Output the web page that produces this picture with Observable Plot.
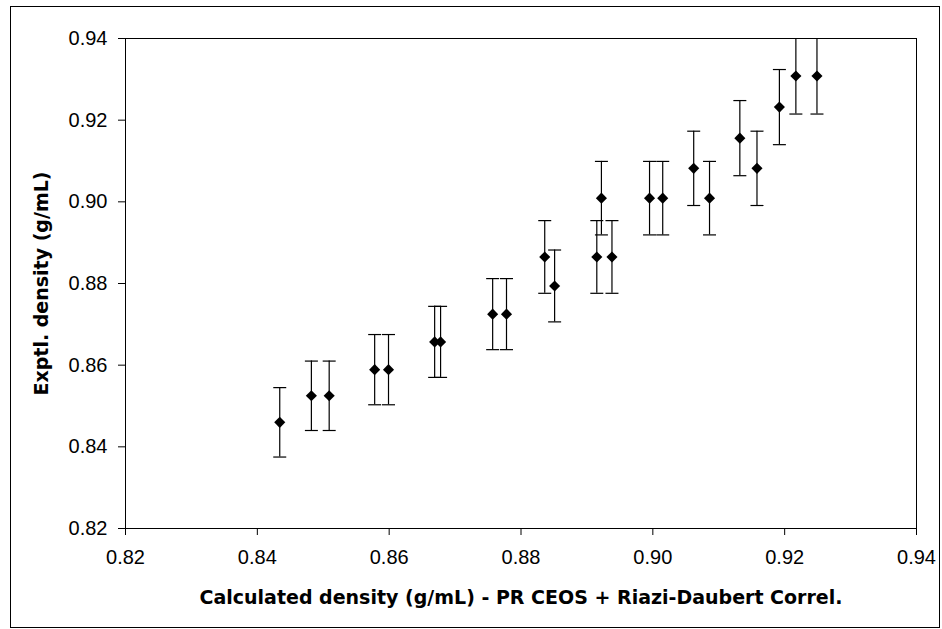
<!DOCTYPE html>
<html>
<head>
<meta charset="utf-8">
<script src="https://cdn.jsdelivr.net/npm/d3@7"></script>
<script src="https://cdn.jsdelivr.net/npm/@observablehq/plot@0.6"></script>
<style>
  html, body { margin: 0; padding: 0; background: #fff; }
  #wrap { position: relative; width: 942px; height: 629px; overflow: hidden; }
  #border { position: absolute; left: 10px; top: 6px; width: 928px; height: 620px; border: 1px solid #000; pointer-events: none; }
  #chart svg { display: block; }
  #chart [aria-label="x-axis label"] text { font-family: 'DejaVu Sans', sans-serif; font-weight: bold; font-size: 19px; }
  #chart [aria-label="y-axis label"] text { font-family: 'DejaVu Sans', sans-serif; font-weight: bold; font-size: 19px; }
</style>
</head>
<body>
<div id="wrap"><div id="chart"></div><div id="border"></div></div>
<script>
// Calculated density (g/mL) - PR CEOS + Riazi-Daubert Correl.
const calcDensity = [0.8434, 0.8482, 0.8509, 0.8578, 0.8599, 0.8669, 0.8678, 0.8757, 0.8778,
  0.8836, 0.8851, 0.8915, 0.8938, 0.8922, 0.8995, 0.9015, 0.9062, 0.9086, 0.9132, 0.9158,
  0.9192, 0.9217, 0.9249];
// Experimental density (g/mL)
const exptDensity = [0.8460, 0.8525, 0.8525, 0.8589, 0.8589, 0.8657, 0.8657, 0.8725, 0.8725,
  0.8865, 0.8794, 0.8865, 0.8865, 0.9009, 0.9009, 0.9009, 0.9082, 0.9009, 0.9156, 0.9082,
  0.9232, 0.9308, 0.9308];
// Error bar half-length (g/mL)
const exptError = [0.0085, 0.0085, 0.0085, 0.0086, 0.0086, 0.0087, 0.0087, 0.0087, 0.0087,
  0.0089, 0.0088, 0.0089, 0.0089, 0.0090, 0.0090, 0.0090, 0.0091, 0.0090, 0.0092, 0.0091,
  0.0092, 0.0093, 0.0093];
const xTicks = [0.82, 0.84, 0.86, 0.88, 0.90, 0.92, 0.94];
const yTicks = [0.82, 0.84, 0.86, 0.88, 0.90, 0.92, 0.94];

const data = calcDensity.map((x, i) => ({
  x, y: exptDensity[i], lo: exptDensity[i] - exptError[i], hi: exptDensity[i] + exptError[i]
}));

const capSymbol = { draw(ctx) { ctx.moveTo(-6.5, 0); ctx.lineTo(6.5, 0); } };

const chart = Plot.plot({
  width: 942,
  height: 629,
  marginLeft: 125,
  marginRight: 26,
  marginTop: 38,
  marginBottom: 101,
  style: { fontFamily: "'Liberation Sans', Arial, sans-serif", fontSize: "20px", color: "#000", background: "transparent" },
  x: { domain: [0.82, 0.94] },
  y: { domain: [0.82, 0.94] },
  marks: [
    Plot.frame({ stroke: "#000", strokeWidth: 1 }),
    Plot.axisX({ ticks: xTicks, tickFormat: d3.format(".2f"), tickSize: 7, tickPadding: 14,
      label: "Calculated density (g/mL) - PR CEOS + Riazi-Daubert Correl.", labelAnchor: "center", labelArrow: "none", labelOffset: 75 }),
    Plot.axisY({ ticks: yTicks, tickFormat: d3.format(".2f"), tickSize: 7, tickPadding: 11,
      label: "Exptl. density (g/mL)", labelAnchor: "center", labelArrow: "none", labelOffset: 91 }),
    Plot.ruleX(data, { x: "x", y1: "lo", y2: "hi", stroke: "#000", strokeWidth: 1.2, clip: true }),
    Plot.dot(data, { x: "x", y: "hi", symbol: capSymbol, stroke: "#000", strokeWidth: 1.2, fill: "none", clip: true }),
    Plot.dot(data, { x: "x", y: "lo", symbol: capSymbol, stroke: "#000", strokeWidth: 1.2, fill: "none", clip: true }),
    Plot.dot(data, { x: "x", y: "y", symbol: "diamond2", r: 5, fill: "#000", stroke: "none" })
  ]
});
document.getElementById("chart").appendChild(chart);
</script>
</body>
</html>
